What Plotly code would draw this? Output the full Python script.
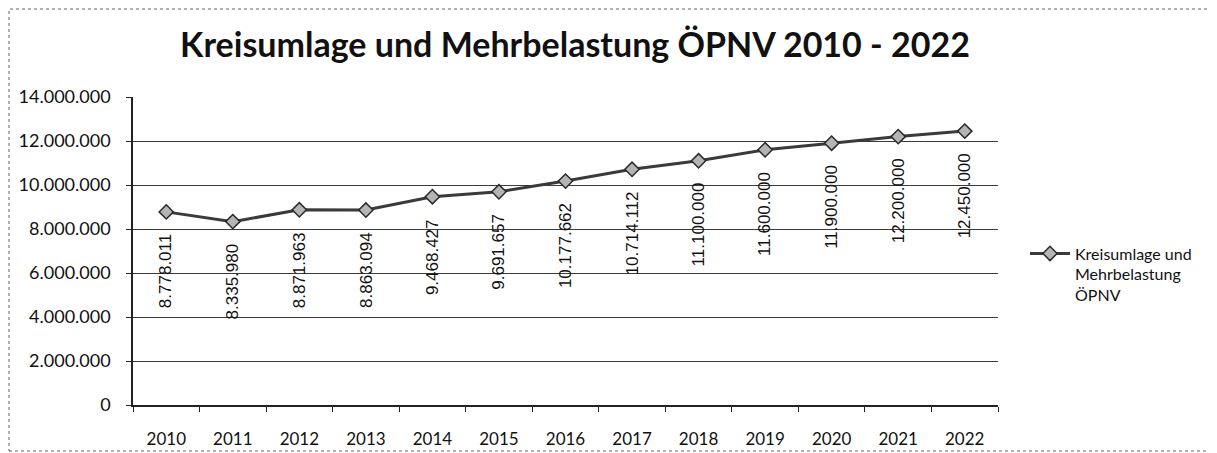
import plotly.graph_objects as go

years = [2010, 2011, 2012, 2013, 2014, 2015, 2016,
         2017, 2018, 2019, 2020, 2021, 2022]
values = [8778011, 8335980, 8871963, 8863094, 9468427, 9691657, 10177662,
          10714112, 11100000, 11600000, 11900000, 12200000, 12450000]
series_name = "Kreisumlage und<br>Mehrbelastung<br>ÖPNV"
title_text = "Kreisumlage und Mehrbelastung ÖPNV 2010 - 2022"

# page has an 8px body margin, so the figure is drawn 8px smaller and offset
OFF = 8
W, H = 1217 - OFF, 453 - OFF
L, R, T, B = 133 - OFF, 219, 97 - OFF, 48
FONT = "Lato"


def de_num(v):
    return f"{v:,}".replace(",", ".")


fig = go.Figure()
fig.add_trace(go.Scatter(
    x=years, y=values, mode="lines+markers", name=series_name,
    line=dict(color="#3a3a3a", width=3),
    marker=dict(symbol="diamond", size=11, color="#b4b4b4",
                line=dict(color="#2a2a2a", width=1.5)),
    showlegend=True,
))

# vertical data labels hanging below each point
for yr, v in zip(years, values):
    fig.add_annotation(x=yr, y=v, text=de_num(v), textangle=-90,
                       showarrow=False, xanchor="center", yanchor="top",
                       yshift=-20, font=dict(family="Liberation Sans", size=17, color="#111"))

# outer chart border
pw, ph = W - L - R, H - T - B
fig.add_shape(type="rect", xref="paper", yref="paper",
              x0=(1 - L) / pw, x1=(W - 2 - L) / pw,
              y0=-(H - 2 - T - ph) / ph, y1=1 + (T - 1) / ph,
              line=dict(color="#666", width=1, dash="dot"), layer="below")

fig.update_layout(
    width=W, height=H,
    margin=dict(l=L, r=R, t=T, b=B),
    paper_bgcolor="white", plot_bgcolor="white",
    separators=",.",
    font=dict(family=FONT, size=16, color="#111"),
    title=dict(text="<b>" + title_text + "</b>", x=(575 - 133) / pw, xref="paper",
               xanchor="center", y=1 - (45 - OFF) / H, yref="container", yanchor="middle",
               font=dict(family=FONT, size=34, color="#111")),
    legend=dict(x=(1025 - 133) / pw, y=0.547, xanchor="left", yanchor="top", valign="top",
                font=dict(family=FONT, size=16, color="#111"),
                bgcolor="rgba(0,0,0,0)", itemwidth=40, borderwidth=0),
    xaxis=dict(range=[2009.5, 2022.5], tickvals=years, ticks="", automargin=False,
               showline=True, linecolor="#222", linewidth=1.5, showgrid=False,
               zeroline=False, tickfont=dict(size=17), ticklabelstandoff=18,
               minor=dict(tick0=2009.5, dtick=1, ticks="outside", ticklen=5,
                          tickcolor="#222", showgrid=False)),
    yaxis=dict(range=[0, 14000000], dtick=2000000, tickformat=",d", automargin=False,
               ticks="outside", ticklen=5, tickcolor="#222", showline=True, linecolor="#222",
               linewidth=1.5, gridcolor="#3a3a3a", gridwidth=1, zeroline=False,
               tickfont=dict(size=18), ticklabelstandoff=12),
)

fig.write_html("out.html")
